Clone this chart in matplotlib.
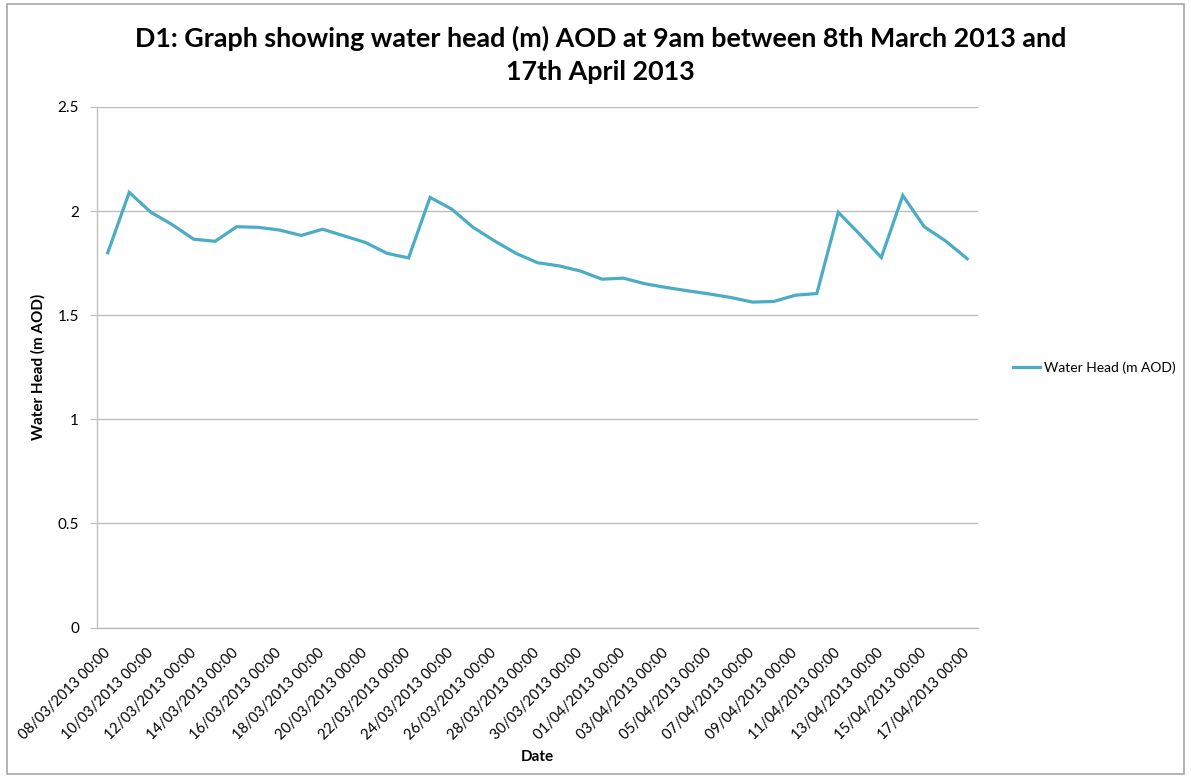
import numpy as np
import pandas as pd
import matplotlib
matplotlib.use('Agg')
import matplotlib.pyplot as plt
from matplotlib.patches import Rectangle

plt.rcParams['font.family'] = ['Lato', 'DejaVu Sans']

# daily readings at 9am, 08/03/2013 - 17/04/2013
dates = pd.date_range('2013-03-08', '2013-04-17', freq='D')
head = [1.80, 2.09, 1.995, 1.935, 1.865, 1.855, 1.925, 1.922, 1.909, 1.883,
        1.913, 1.881, 1.849, 1.797, 1.775, 2.066, 2.010, 1.922, 1.857, 1.797,
        1.752, 1.737, 1.712, 1.673, 1.678, 1.651, 1.633, 1.617, 1.602, 1.585,
        1.563, 1.566, 1.596, 1.604, 1.994, 1.888, 1.777, 2.075, 1.925, 1.856,
        1.771]
labels = [d.strftime('%d/%m/%Y 00:00') for d in dates]

grid_col = '#bdbdbd'
line_col = '#4bacc6'

fig = plt.figure(figsize=(11.91, 7.79), dpi=100)
ax = fig.add_axes([97/1191, 1-627.5/779, 881/1191, 520.5/779])

x = np.arange(len(head))
ax.plot(x, head, color=line_col, lw=2.3, solid_joinstyle='miter',
        label='Water Head (m AOD)')

ax.set_xlim(-0.5, len(head) - 0.5)
ax.set_ylim(0, 2.5)
ax.set_yticks([0, 0.5, 1, 1.5, 2, 2.5])
ax.set_yticklabels(['0', '0.5', '1', '1.5', '2', '2.5'])
ax.yaxis.grid(True, color=grid_col, lw=1)
ax.set_axisbelow(True)

ax.set_xticks(x[::2])
ax.set_xticklabels(labels[::2], rotation=45, ha='right', va='center',
                   rotation_mode='anchor', fontsize=10.5)
ax.tick_params(axis='x', length=0, pad=17)
ax.tick_params(axis='y', length=5, color=grid_col, labelsize=11, pad=8)

for s in ['top', 'right']:
    ax.spines[s].set_visible(False)
for s in ['left', 'bottom']:
    ax.spines[s].set_color(grid_col)
    ax.spines[s].set_linewidth(1)

ax.set_xlabel('Date', fontsize=11, fontweight='bold')
ax.xaxis.set_label_coords(0.50, -0.235)
ax.set_ylabel('Water Head (m AOD)', fontsize=11, fontweight='bold')
ax.yaxis.set_label_coords(-0.058, 0.5)

fig.suptitle('D1: Graph showing water head (m) AOD at 9am between 8th March 2013 and\n17th April 2013',
             x=0.504, y=0.967, fontsize=19.4, fontweight='bold', linespacing=1.45)

ax.legend(loc='center left', bbox_to_anchor=(1.025, 0.5), frameon=False,
          fontsize=10, handlelength=2.0, handletextpad=0.3)

# outer chart border
fig.patches.append(Rectangle((7/1191, 5/779), 1177/1191, 770/779,
                             transform=fig.transFigure, fill=False,
                             edgecolor='#a6a6a6', lw=1.2))

fig.savefig('out.png', dpi=100)
